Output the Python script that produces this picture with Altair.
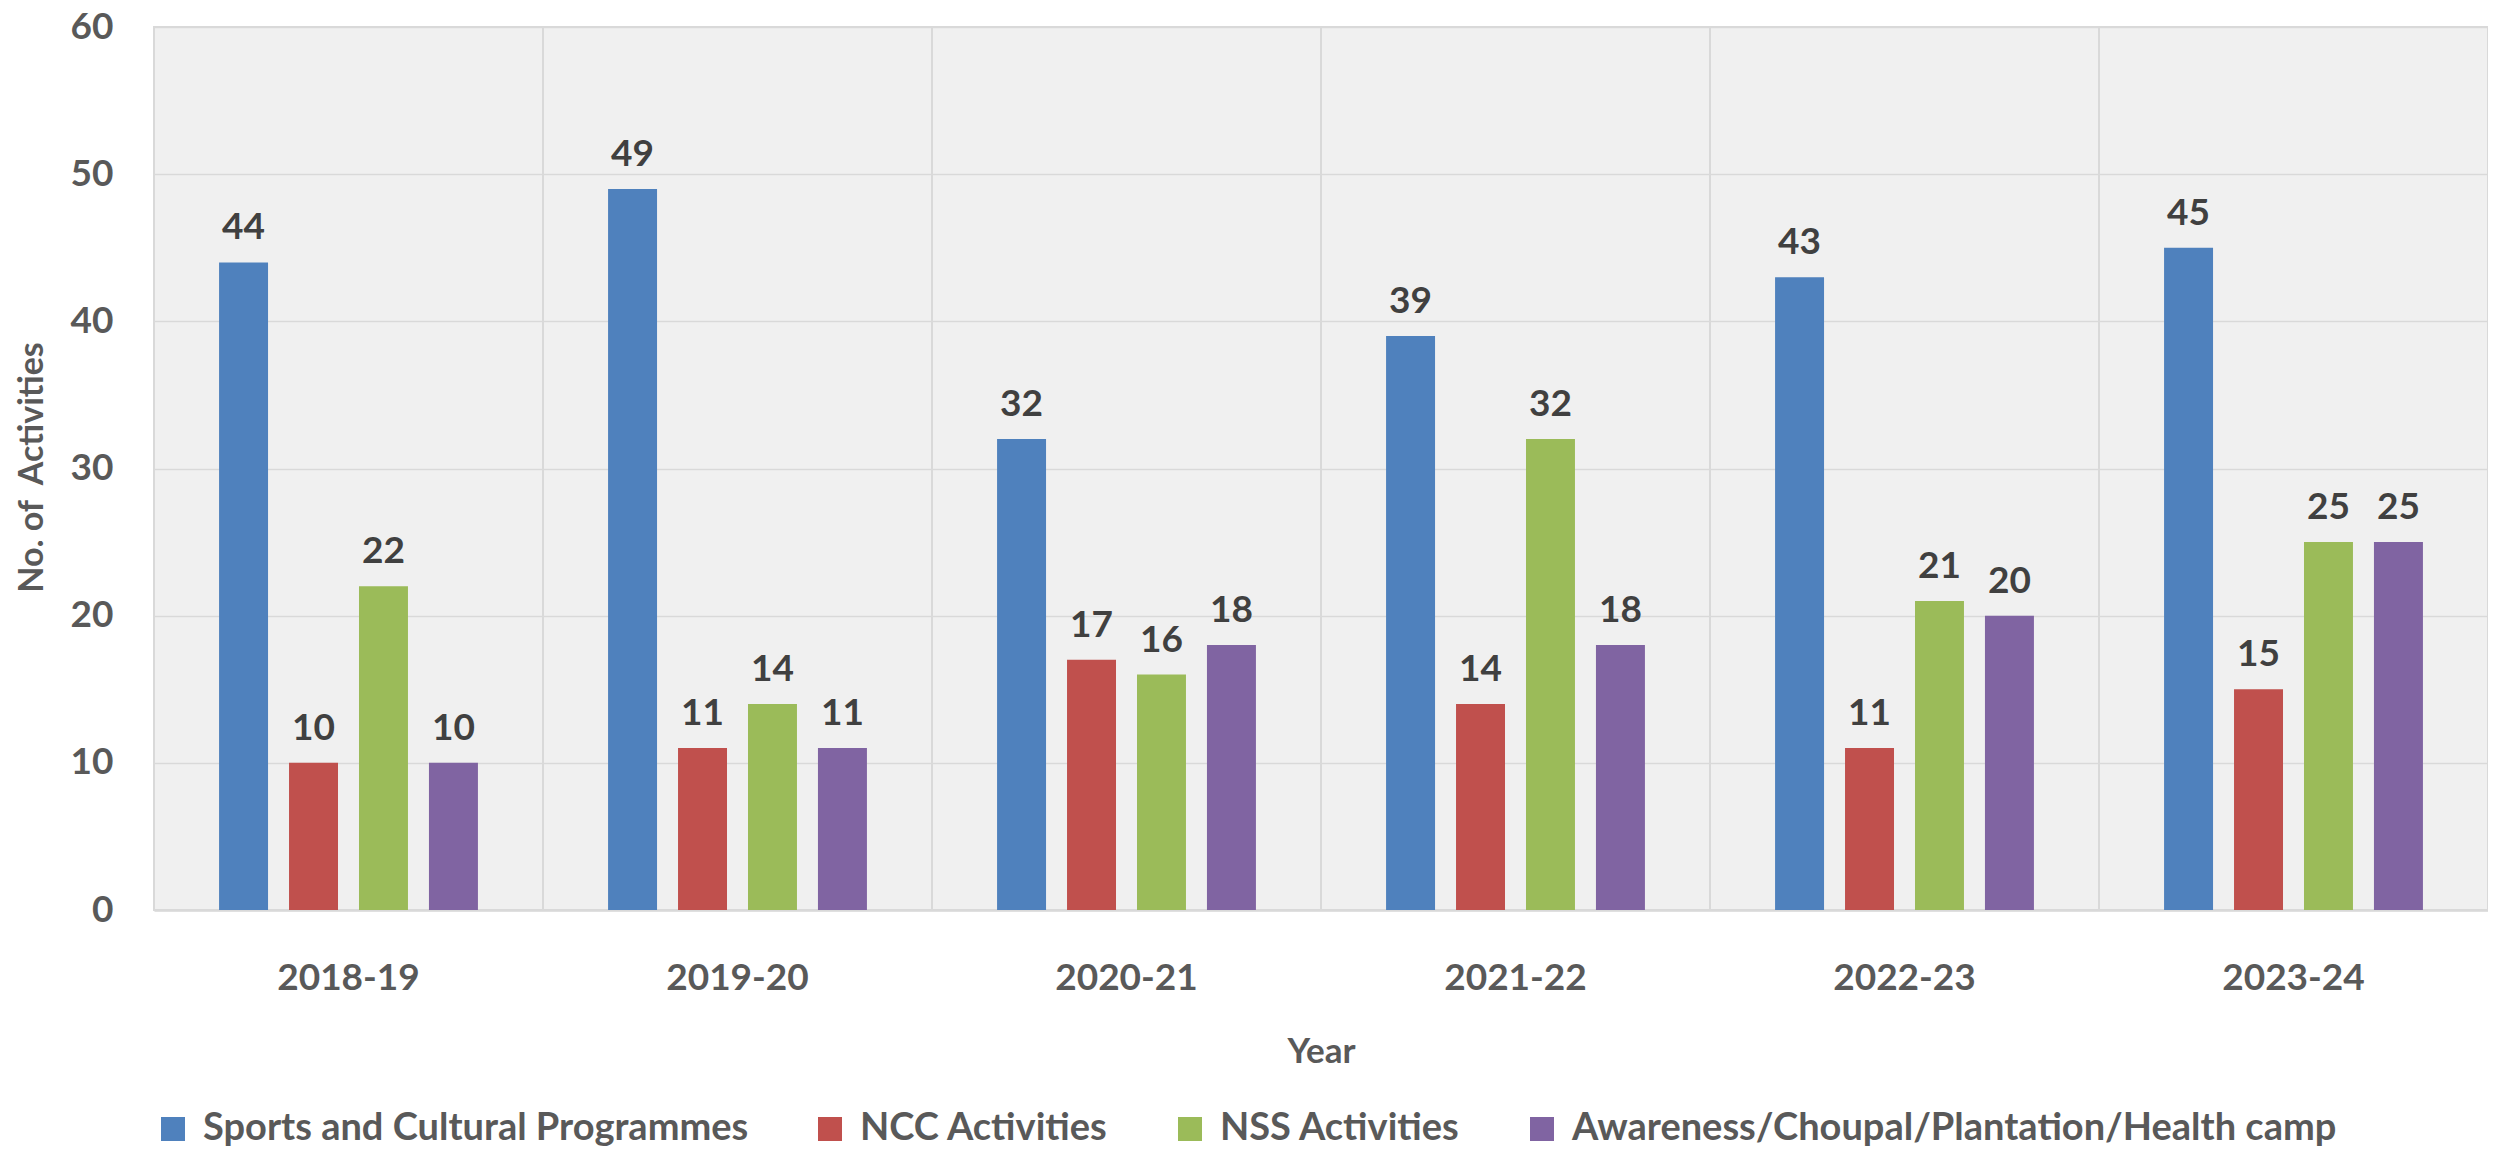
import altair as alt
import pandas as pd

years = ["2018-19", "2019-20", "2020-21", "2021-22", "2022-23", "2023-24"]
series = [
    "Sports and Cultural Programmes",
    "NCC Activities",
    "NSS Activities",
    "Awareness/Choupal/Plantation/Health camp",
]
sports = [44, 49, 32, 39, 43, 45]
ncc = [10, 11, 17, 14, 11, 15]
nss = [22, 14, 16, 32, 21, 25]
awareness = [10, 11, 18, 18, 20, 25]
colors = ["#4F81BD", "#C0504D", "#9BBB59", "#8064A2"]

rows = []
for s, vals in zip(series, [sports, ncc, nss, awareness]):
    for y, v in zip(years, vals):
        rows.append({"year": y, "series": s, "value": v})
df = pd.DataFrame(rows)
df_years = pd.DataFrame({"year": years})

FONT = "Lato"
GRAY = "#595959"

x_axis = alt.Axis(
    title="Year",
    labelFont=FONT, labelFontSize=37, labelFontWeight="bold", labelColor=GRAY,
    labelBaseline="middle", labelAlign="center", labelPadding=68, labelAngle=0,
    ticks=False, domainColor="#d9d9d9", domainWidth=2.5,
    titleFont=FONT, titleFontSize=35, titleFontWeight="bold", titleColor=GRAY,
    titleY=141, titleBaseline="middle",
    grid=False,
)
x_scale = alt.Scale(paddingInner=0, paddingOuter=0)
x_enc = alt.X("year:N", sort=years, scale=x_scale, axis=x_axis)
xoff = alt.XOffset("series:N", sort=series,
                   scale=alt.Scale(paddingInner=0.3, paddingOuter=0.93))
y_enc = alt.Y(
    "value:Q",
    scale=alt.Scale(domain=[0, 60], nice=False),
    axis=alt.Axis(
        title="No. of \u00a0Activities",
        values=[0, 10, 20, 30, 40, 50, 60],
        labelFont=FONT, labelFontSize=37, labelFontWeight="bold", labelColor=GRAY,
        labelPadding=41, ticks=False, domain=False,
        grid=True, gridColor="#d9d9d9", gridWidth=1.5,
        titleFont=FONT, titleFontSize=34, titleFontWeight="bold", titleColor=GRAY,
        titleX=-122, titleY=440, titleAngle=270, titleBaseline="middle", titleAlign="center",
    ),
)
color_enc = alt.Color(
    "series:N", sort=series,
    scale=alt.Scale(domain=series, range=colors),
    legend=alt.Legend(
        title=None, orient="bottom", direction="horizontal",
        symbolType="square", symbolSize=576, symbolStrokeWidth=0,
        labelFont=FONT, labelFontSize=38, labelFontWeight="bold", labelColor=GRAY,
        labelOffset=11, columnPadding=62, offset=41, labelLimit=1000,
    ),
)

bars = alt.Chart(df).mark_bar().encode(x=x_enc, xOffset=xoff, y=y_enc, color=color_enc)

labels = alt.Chart(df).mark_text(
    font=FONT, fontSize=37, fontWeight="bold", color="#404040",
    baseline="alphabetic", dy=-23,
).encode(x=x_enc, xOffset=xoff, y=y_enc, text="value:Q")

seps = alt.Chart(df_years).mark_rule(color="#d9d9d9", strokeWidth=2).encode(
    x=alt.X("year:N", sort=years, scale=x_scale, axis=x_axis, bandPosition=0)
)

chart = alt.layer(seps, bars, labels).properties(
    width=2334, height=883,
    autosize=alt.AutoSizeParams(type="none"),
    padding={"left": 146, "top": 19, "right": 0, "bottom": 240},
).configure_view(fill="#f0f0f0", stroke="#d9d9d9", strokeWidth=2)

chart.save("out.html", embed_options={"renderer": "svg", "actions": False})
